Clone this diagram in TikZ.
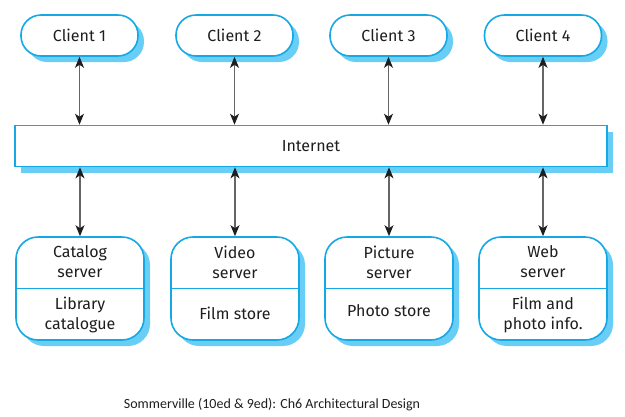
\documentclass[tikz,border=0pt]{standalone}
\usepackage{fontspec}
\setmainfont{Fira Sans}
\newfontfamily\capfont{Carlito}
\usetikzlibrary{shadows,arrows.meta}
\definecolor{bl}{RGB}{20,168,228}
\definecolor{sh}{RGB}{104,206,246}
\definecolor{ink}{RGB}{30,30,30}
\begin{document}
\begin{tikzpicture}[x=1pt,y=-1pt,
  shad/.style={drop shadow={shadow xshift=6pt,shadow yshift=-6pt,fill=sh,opacity=1}},
  client/.style={draw=bl,line width=1.6pt,fill=white,rounded corners=20pt,minimum width=117pt,minimum height=41pt,inner sep=0pt,shad,font=\fontsize{16}{18}\selectfont,text=ink},
  netbox/.style={draw=bl,line width=1.6pt,fill=white,minimum width=592pt,minimum height=41pt,inner sep=0pt,shad,font=\fontsize{16}{18}\selectfont,text=ink},
  server/.style={draw=bl,line width=1.6pt,fill=white,rounded corners=22pt,minimum width=128pt,minimum height=103pt,inner sep=0pt,shad},
  lbl/.style={align=center,inner sep=0pt,font=\fontsize{16}{20}\selectfont,text=ink},
  divider/.style={draw=bl,line width=1pt},
  conn/.style={draw=black!60,line width=1.1pt,{Stealth[length=11pt,width=9pt,inset=3pt,color=ink]}-{Stealth[length=11pt,width=9pt,inset=3pt,color=ink]}}
]
\useasboundingbox (0,0) rectangle (625,416);
\node[client] (c1) at (79.5,35.5) {Client 1};
\node[client] (c2) at (234.5,35.5) {Client 2};
\node[client] (c3) at (388.5,35.5) {Client 3};
\node[client] (c4) at (543,35.5) {Client 4};
\node[netbox] (net) at (311,146) {Internet};
\node[server] (s1) at (80,288.5) {};
\node[server] (s2) at (235,288.5) {};
\node[server] (s3) at (389,288.5) {};
\node[server] (s4) at (543,288.5) {};
\foreach \i in {1,2,3,4}{
  \draw[divider] (s\i.west) -- (s\i.east);
  \draw[conn] (c\i.south) -- (c\i.south |- net.north);
  \draw[conn] (net.south -| s\i.north) -- (s\i.north);
}
\node[lbl] (t1a) at (80,262) {Catalog\\server};
\node[lbl] (t1b) at (80,315) {Library\\catalogue};
\node[lbl] (t2a) at (235,262) {Video\\server};
\node[lbl] (t2b) at (235,313) {Film store};
\node[lbl] (t3a) at (389,262) {Picture\\server};
\node[lbl] (t3b) at (389,311) {Photo store};
\node[lbl] (t4a) at (543,262) {Web\\server};
\node[lbl] (t4b) at (543,315) {Film and\\photo info.};
\node[inner sep=0pt,font=\capfont\fontsize{14}{16}\selectfont,text=ink] (cap) at (272,404.5) {Sommerville (10ed \& 9ed): Ch6 Architectural Design};
\end{tikzpicture}
\end{document}
